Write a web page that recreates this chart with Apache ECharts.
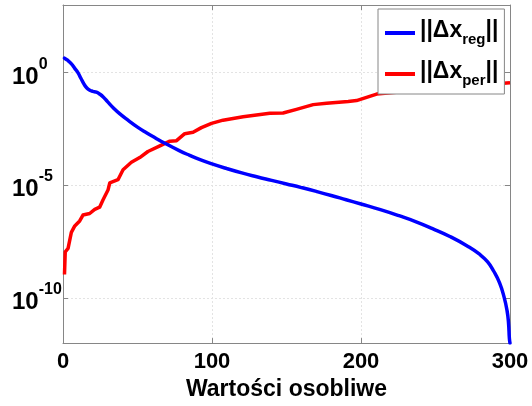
<!DOCTYPE html>
<html>
<head>
<meta charset="utf-8">
<script src="https://cdn.jsdelivr.net/npm/echarts@6/dist/echarts.min.js"></script>
<style>html,body{margin:0;padding:0;background:#fff;}#c{width:532px;height:406px;}</style>
</head>
<body>
<div id="c"></div>
<script>
// x positions (singular value index) and values for ||Δx_reg||
const regX = [1, 3, 5.5, 8, 10, 12, 14, 16, 18, 20, 22.4, 24.6, 27, 30, 34, 38, 44, 50, 56, 62, 68, 78, 85, 92, 100, 110, 120, 130, 140, 150, 160, 170, 180, 190, 200, 213, 226, 237, 248, 260, 271, 280, 285, 289, 293, 296, 298, 299, 299.6, 300];
const regValues = [4.37, 3.55, 2.51, 1.51, 1.0, 0.562, 0.316, 0.209, 0.166, 0.148, 0.135, 0.112, 0.0832, 0.0501, 0.0263, 0.0151, 7.41e-3, 3.80e-3, 2.14e-3, 1.26e-3, 7.59e-4, 3.47e-4, 2.14e-4, 1.38e-4, 8.91e-5, 5.50e-5, 3.55e-5, 2.40e-5, 1.66e-5, 1.15e-5, 7.94e-6, 5.37e-6, 3.55e-6, 2.29e-6, 1.48e-6, 8.32e-7, 4.37e-7, 2.40e-7, 1.20e-7, 5.25e-8, 2.09e-8, 8.32e-9, 3.98e-9, 1.58e-9, 4.68e-10, 1.12e-10, 2.82e-11, 7.94e-12, 1.58e-12, 1e-12];
// x positions and values for ||Δx_per||
const perX = [1, 1.5, 3.4, 5.6, 7.9, 11.2, 13.4, 17.9, 21.3, 24.6, 26.9, 30.2, 31.4, 36.9, 40.3, 45.9, 51.5, 57, 65, 71.7, 76.2, 81.7, 87.3, 92.9, 99.7, 107.4, 120.9, 138.8, 147.7, 156.7, 167.9, 176.9, 191.4, 197, 210.5, 221.6, 240, 260, 280, 300];
const perValues = [1.10e-9, 1.12e-8, 1.58e-8, 8.13e-8, 1.58e-7, 2.63e-7, 4.79e-7, 5.62e-7, 8.51e-7, 1.07e-6, 2.29e-6, 6.17e-6, 1.29e-5, 1.78e-5, 4.90e-5, 1.05e-4, 1.70e-4, 3.16e-4, 5.62e-4, 9.12e-4, 9.55e-4, 1.95e-3, 2.24e-3, 3.63e-3, 5.62e-3, 7.76e-3, 0.011, 0.0158, 0.0162, 0.0234, 0.038, 0.0437, 0.0525, 0.0575, 0.112, 0.132, 0.166, 0.219, 0.282, 0.355];
// tick values and labels
const xTicks = [0, 100, 200, 300];
const yTickValues = [1e-10, 1e-5, 1];
const yTickExponents = ['-10', '-5', '0'];
const seriesNames = ['||Δx reg||', '||Δx per||'];
const seriesSubscripts = ['reg', 'per'];

const FONT = '"Liberation Sans", Arial, sans-serif';
const frameColor = '#868686';
const gridColor = '#e3e3e3';

const regData = regX.map((x, i) => [x, regValues[i]]);
const perData = perX.map((x, i) => [x, perValues[i]]);

function yLabel(v) {
  let best = 0, bd = Infinity;
  yTickValues.forEach((t, i) => {
    const d = Math.abs(Math.log10(v) - Math.log10(t));
    if (d < bd) { bd = d; best = i; }
  });
  if (bd > 0.01) return '';
  return '{b|10}{s|' + yTickExponents[best] + '}';
}

const chart = echarts.init(document.getElementById('c'), null, {renderer: 'canvas'});
const option = {
  animation: false,
  backgroundColor: '#ffffff',
  grid: {left: 63, right: 22, top: 5, bottom: 56, containLabel: false},
  legend: {
    left: 378, top: 9,
    orient: 'vertical',
    backgroundColor: '#ffffff',
    borderColor: frameColor,
    borderWidth: 1,
    padding: [10, 6, 6, 7],
    itemGap: 13,
    itemWidth: 30,
    itemHeight: 4,
    icon: 'rect',
    data: seriesNames,
    formatter: function (name) {
      const sub = seriesSubscripts[seriesNames.indexOf(name)];
      return '{a|||Δx}{s|' + sub + '}{a|||}';
    },
    textStyle: {
      fontFamily: FONT,
      fontWeight: 'bold',
      color: '#000',
      rich: {
        a: {fontSize: 23, fontWeight: 'bold', fontFamily: FONT, color: '#000', verticalAlign: 'top'},
        s: {fontSize: 15, fontWeight: 'bold', fontFamily: FONT, color: '#000', verticalAlign: 'top', padding: [13, 0, 0, 0]}
      }
    }
  },
  xAxis: [{
    type: 'value', min: 0, max: 300, interval: 100, position: 'bottom',
    name: 'Wartości osobliwe', nameLocation: 'middle', nameGap: 32,
    nameTextStyle: {fontFamily: FONT, fontWeight: 'bold', fontSize: 23, color: '#000'},
    axisLine: {show: true, onZero: false, lineStyle: {color: frameColor, width: 1}},
    axisTick: {show: true, inside: true, length: 5, lineStyle: {color: frameColor}},
    axisLabel: {fontFamily: FONT, fontWeight: 'bold', fontSize: 22, color: '#000', margin: 8,
      formatter: v => (xTicks.indexOf(v) >= 0 ? String(v) : '')},
    splitLine: {show: true, lineStyle: {color: gridColor, type: [2, 2], width: 1}}
  }, {
    type: 'value', min: 0, max: 300, interval: 100, position: 'top',
    axisLine: {show: true, onZero: false, lineStyle: {color: frameColor, width: 1}},
    axisTick: {show: true, inside: true, length: 5, lineStyle: {color: frameColor}},
    axisLabel: {show: false},
    splitLine: {show: false}
  }],
  yAxis: [{
    type: 'log', logBase: 10, min: 1e-12, max: 1e3, position: 'left',
    axisLine: {show: true, onZero: false, lineStyle: {color: frameColor, width: 1}},
    axisTick: {show: true, inside: true, length: 5, lineStyle: {color: frameColor}, customValues: yTickValues},
    axisLabel: {
      customValues: yTickValues,
      align: 'left', margin: 51,
      formatter: yLabel,
      rich: {
        b: {fontFamily: FONT, fontWeight: 'bold', fontSize: 24, color: '#000', verticalAlign: 'top', padding: [9, 0, 0, 0]},
        s: {fontFamily: FONT, fontWeight: 'bold', fontSize: 16, color: '#000', verticalAlign: 'top'}
      }
    },
    splitLine: {show: true, lineStyle: {color: gridColor, type: [2, 2], width: 1}}
  }, {
    type: 'log', logBase: 10, min: 1e-12, max: 1e3, position: 'right',
    axisLine: {show: true, onZero: false, lineStyle: {color: frameColor, width: 1}},
    axisTick: {show: true, inside: true, length: 5, lineStyle: {color: frameColor}, customValues: yTickValues},
    axisLabel: {show: false},
    splitLine: {show: false}
  }],
  series: [{
    name: seriesNames[0], type: 'line', data: regData,
    xAxisIndex: 0, yAxisIndex: 0,
    showSymbol: false, symbol: 'none', smooth: 0.5,
    lineStyle: {color: '#0000ff', width: 3.5, cap: 'round', join: 'round'},
    itemStyle: {color: '#0000ff'},
    clip: true, z: 3
  }, {
    name: seriesNames[1], type: 'line', data: perData,
    xAxisIndex: 0, yAxisIndex: 0,
    showSymbol: false, symbol: 'none', smooth: false,
    lineStyle: {color: '#ff0000', width: 3.5, join: 'round'},
    itemStyle: {color: '#ff0000'},
    clip: true, z: 2
  }]
};
chart.setOption(option);
</script>
</body>
</html>
